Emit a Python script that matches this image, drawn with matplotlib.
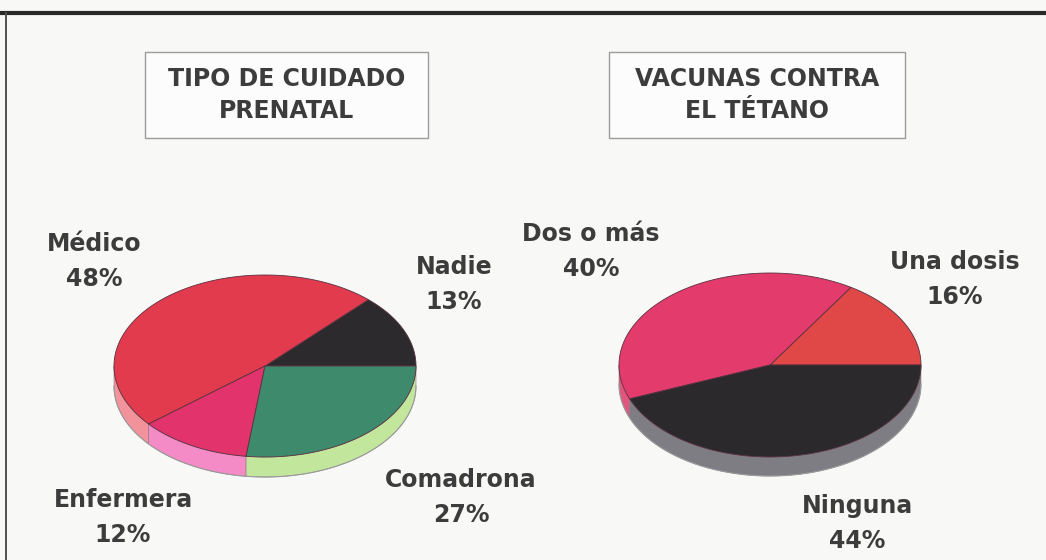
import numpy as np
import matplotlib.pyplot as plt
from matplotlib.patches import Polygon, Rectangle

# Tipo de cuidado prenatal (counter-clockwise from 3 o'clock)
care_labels = ["Nadie", "Médico", "Enfermera", "Comadrona"]
care_pct = [13, 48, 12, 27]
care_top = ["#2c2a2c", "#e23b4d", "#e2336c", "#3d8a6d"]
care_side = ["#4a4a4a", "#f2939c", "#f48ac6", "#c2e79c"]

# Vacunas contra el tétano
tet_labels = ["Una dosis", "Dos o más", "Ninguna"]
tet_pct = [16, 40, 44]
tet_top = ["#e04747", "#e23b6c", "#2b292c"]
tet_side = ["#e87070", "#e2557e", "#7e7d84"]

titles = ["TIPO DE CUIDADO\nPRENATAL", "VACUNAS CONTRA\nEL TÉTANO"]

TEXT_COLOR = "#3c3c3c"
FONT = ["DejaVu Sans"]
FS = 17


def draw_pie(ax, pct, tops, sides, cx, cy, rx, ry, depth):
    angles = np.concatenate([[0], np.cumsum(pct)]) / 100.0 * 360.0
    # front wall of the disc
    for i in range(len(pct)):
        lo = max(angles[i], 180.0)
        hi = min(angles[i + 1], 360.0)
        if hi <= lo:
            continue
        t = np.radians(np.linspace(lo, hi, 80))
        x = cx + rx * np.cos(t)
        y = cy - ry * np.sin(t)
        pts = np.concatenate([np.column_stack([x, y]),
                              np.column_stack([x[::-1], y[::-1] + depth])])
        ax.add_patch(Polygon(pts, closed=True, facecolor=sides[i],
                             edgecolor="#8a7a80", lw=0.4))
    t = np.radians(np.linspace(180, 360, 200))
    ax.plot(cx + rx * np.cos(t), cy - ry * np.sin(t) + depth,
            color="#9a9a9a", lw=0.8)
    # top face
    for i in range(len(pct)):
        t = np.radians(np.linspace(angles[i], angles[i + 1], 150))
        x = cx + rx * np.cos(t)
        y = cy - ry * np.sin(t)
        pts = np.concatenate([[[cx, cy]], np.column_stack([x, y])])
        ax.add_patch(Polygon(pts, closed=True, facecolor=tops[i],
                             edgecolor="#5a3040", lw=0.6))


def label(ax, x, y, name, pct):
    ax.text(x, y, name, ha="center", va="center", fontsize=FS,
            fontweight="bold", color=TEXT_COLOR, family=FONT)
    ax.text(x, y + 35, f"{pct}%", ha="center", va="center", fontsize=FS,
            fontweight="bold", color=TEXT_COLOR, family=FONT)


fig = plt.figure(figsize=(10.46, 5.6), dpi=100)
fig.patch.set_facecolor("#f8f8f6")
ax = fig.add_axes([0, 0, 1, 1])
ax.set_xlim(0, 1046)
ax.set_ylim(560, 0)
ax.axis("off")

# frame
ax.plot([0, 1046], [13, 13], color="#2a2a2a", lw=3, solid_capstyle="butt")
ax.plot([6, 6], [13, 560], color="#505050", lw=1.4)

# title boxes
boxes = [(145, 52, 283, 86), (609, 52, 296, 86)]
for (bx, by, bw, bh), ttl in zip(boxes, titles):
    ax.add_patch(Rectangle((bx, by), bw, bh, facecolor="#fcfcfc",
                           edgecolor="#9c9c9c", lw=1.0))
    ax.text(bx + bw / 2, by + bh / 2, ttl, ha="center", va="center",
            fontsize=FS, fontweight="bold", color=TEXT_COLOR, family=FONT,
            linespacing=1.4)

draw_pie(ax, care_pct, care_top, care_side, 265, 366, 151, 91, 20)
draw_pie(ax, tet_pct, tet_top, tet_side, 770, 365, 151, 92, 19)

care_pos = [(454, 267), (94, 244), (123, 500), (461, 480)]
for (x, y), n, p in zip(care_pos, care_labels, care_pct):
    label(ax, x, y, n, p)

tet_pos = [(955, 262), (591, 234), (857, 506)]
for (x, y), n, p in zip(tet_pos, tet_labels, tet_pct):
    label(ax, x, y, n, p)

fig.savefig("out.png", dpi=100, facecolor=fig.get_facecolor())
